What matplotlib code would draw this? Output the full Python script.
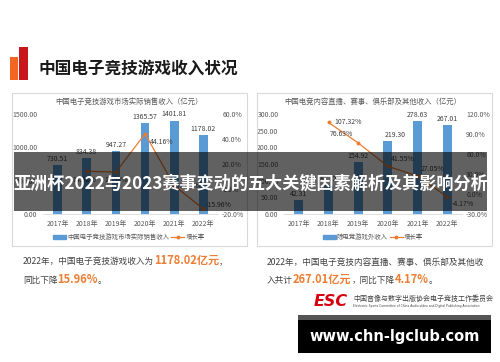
import matplotlib.pyplot as plt
from matplotlib.patches import Rectangle, Patch
from matplotlib.lines import Line2D
from matplotlib.ticker import FuncFormatter

plt.rcParams['font.family'] = ['Noto Sans CJK SC', 'DejaVu Sans']

years = ['2017年', '2018年', '2019年', '2020年', '2021年', '2022年']
game_revenue = [730.51, 834.38, 947.27, 1365.57, 1401.81, 1178.02]
game_growth = [14.22, 13.53, 44.16, 2.65, -15.96]      # 2018-2022
other_revenue = [42.31, 87.72, 154.92, 219.30, 278.63, 267.01]
other_growth = [107.32, 76.63, 41.55, 27.05, -4.17]    # 2018-2022

W, H = 500, 362
BLUE = '#5B9BD5'
ORANGE = '#ED7D31'
GREY = '#595959'
TEXT = '#404040'

fig = plt.figure(figsize=(W / 100, H / 100), dpi=100, facecolor='white')


def px_axes(left, top, right, bottom, **kw):
    return fig.add_axes([left / W, 1 - bottom / H, (right - left) / W, (bottom - top) / H], **kw)


def chart(ax, values, growth, ylim, yticks, glim, gticks, bar_name,
          growth_offsets, bar_dx, legend_x):
    x = list(range(len(years)))
    ax.bar(x, values, width=0.3, color=BLUE, zorder=2)
    ax.set_xlim(-0.5, len(years) - 0.5)
    ax.set_ylim(*ylim)
    ax.set_yticks(yticks)
    ax.yaxis.set_major_formatter(FuncFormatter(lambda v, p: f'{v:.2f}'))
    ax.set_xticks(x)
    ax.set_xticklabels(years)
    ax.tick_params(length=0, labelsize=5, labelcolor=GREY)
    ax.tick_params(axis='x', pad=4)
    ax.tick_params(axis='y', pad=4)
    for s in ['top', 'left', 'right']:
        ax.spines[s].set_visible(False)
    ax.spines['bottom'].set_color('#d9d9d9')
    ax.spines['bottom'].set_linewidth(0.6)
    ax.patch.set_alpha(0)
    for i, v in enumerate(values):
        ax.annotate(f'{v:.2f}', (i, v), xytext=(bar_dx[i], 1.5), textcoords='offset points',
                    ha='center', va='bottom', fontsize=5, color=TEXT)

    ax2 = ax.twinx()
    gx = x[1:]
    ax2.plot(gx, growth, color=ORANGE, lw=0.9, marker='o', ms=1.8, zorder=3)
    ax2.set_ylim(*glim)
    ax2.set_yticks(gticks)
    ax2.yaxis.set_major_formatter(FuncFormatter(lambda v, p: f'{v:.1f}%'))
    ax2.tick_params(length=0, labelsize=5, labelcolor=GREY, pad=3)
    for s in ax2.spines.values():
        s.set_visible(False)
    for xi, g, off in zip(gx, growth, growth_offsets):
        ax2.annotate(f'{g:.2f}%', (xi, g), xytext=off, textcoords='offset points',
                     ha='center', va='center', fontsize=5, color=TEXT)

    handles = [Patch(color=BLUE),
               Line2D([], [], color=ORANGE, lw=0.9, marker='o', ms=1.8)]
    ax.legend(handles, [bar_name, '增长率'], loc='center', ncol=2, frameon=False,
              bbox_to_anchor=(legend_x / W, 1 - 237 / H), bbox_transform=fig.transFigure,
              fontsize=4.6, handlelength=2.0, handleheight=0.6, columnspacing=0.3,
              handletextpad=0.2, labelcolor=GREY)


ax_left = px_axes(43, 114, 218, 214)
chart(ax_left, game_revenue, game_growth, (0, 1500), [0, 500, 1000, 1500],
      (-20, 60), [-20, 0, 20, 40, 60], '中国电子竞技游戏市场实际销售收入',
      [(-1.5, -6), (0, -6), (12, -6), (11, 0), (11, 3)],
      [0, 0, 0, 0, 0, 0], 129)

ax_right = px_axes(284, 114, 462, 214)
chart(ax_right, other_revenue, other_growth, (0, 300), [0, 50, 100, 150, 200, 250, 300],
      (-30, 120), [-30, 0, 30, 60, 90, 120], '除电竞游戏外收入',
      [(14.5, 0), (-12, 6.5), (11, 5), (11, 5), (11, -5)],
      [0, 0, 0, 5, 0, 0], 373)

# decoration layer in pixel coordinates
ov = fig.add_axes([0, 0, 1, 1], zorder=10)
ov.set_xlim(0, W)
ov.set_ylim(H, 0)
ov.axis('off')
ov.patch.set_alpha(0)

ov.add_patch(Rectangle((10, 57), 8, 23, fc='#f26522', ec='none'))
ov.add_patch(Rectangle((19, 47), 9, 33, fc='#c8161d', ec='none'))
ov.text(38, 69, '中国电子竞技游戏收入状况', fontsize=12, fontweight='bold',
        va='center', color='#1a1a1a')

ov.add_patch(Rectangle((12, 93), 235, 153, fill=False, ec='#d9d9d9', lw=0.8))
ov.add_patch(Rectangle((257, 93), 235, 153, fill=False, ec='#d9d9d9', lw=0.8))
ov.text(129, 101.5, '中国电子竞技游戏市场实际销售收入（亿元）', ha='center', va='center',
        fontsize=5.3, color=GREY)
ov.text(373, 101.5, '中国电竞内容直播、赛事、俱乐部及其他收入（亿元）', ha='center', va='center',
        fontsize=5.3, color=GREY)

renderer = fig.canvas.get_renderer()

# dark banner across the charts
ov.add_patch(Rectangle((14, 152), 473, 59, fc='black', ec='none', alpha=0.62))
banner = ov.text(250.5, 184, '亚洲杯2022与2023赛事变动的五大关键因素解析及其影响分析', ha='center',
                 va='center', fontsize=13, fontweight='bold', color='white')
bw = banner.get_window_extent(renderer).width
banner.set_fontsize(13 * 472 / bw)


def rich_line(x, y, parts):
    for s, hi in parts:
        if hi:
            t = ov.text(x, y, s, color=ORANGE, fontsize=8, fontweight='bold', va='baseline')
        else:
            t = ov.text(x, y, s, color=TEXT, fontsize=6.2, va='baseline')
        x += t.get_window_extent(renderer).width


rich_line(23, 264, [('2022年，中国电子竞技游戏收入为', False), ('1178.02亿元', True), ('，', False)])
rich_line(23, 283, [('同比下降', False), ('15.96%', True), ('。', False)])
rich_line(267, 265, [('2022年，中国电子竞技内容直播、赛事、俱乐部及其他收', False)])
rich_line(267, 283, [('入共计', False), ('267.01亿元', True), ('，同比下降', False),
                     ('4.17%', True), ('。', False)])

ov.text(314, 302, 'ESC', fontsize=11.5, fontweight='bold', style='italic', color='#d7000f',
        va='center', family='DejaVu Sans')
ov.text(353, 299, '中国音像与数字出版协会电子竞技工作委员会', fontsize=5, color=TEXT, va='center')
ov.text(353, 306, 'Electronic Sports Committee of China Audio-video and Digital Publishing Association',
        fontsize=2.2, color=TEXT, va='center', family='DejaVu Sans')

ov.add_patch(Rectangle((298, 315), 193, 38, fc='black', ec='none'))
ov.add_patch(Rectangle((298, 315), 193, 5, fc='#555555', ec='none'))
ov.text(394.5, 336, 'www.chn-lgclub.com', ha='center', va='center', fontsize=10.5,
        fontweight='bold', color='white', family='DejaVu Sans')

fig.savefig('out.png', dpi=100)
